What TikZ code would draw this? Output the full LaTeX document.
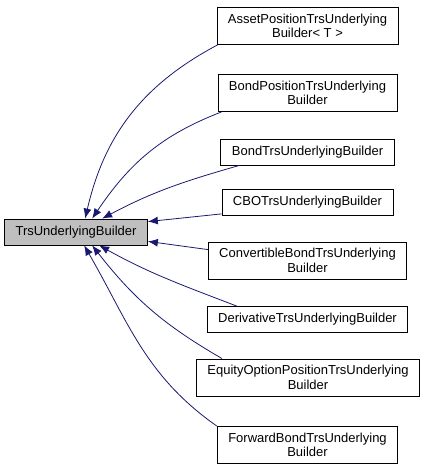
\documentclass[tikz,border=0pt]{standalone}
\usepackage{fontspec}
\setmainfont{Liberation Sans}
\usetikzlibrary{arrows.meta}
\definecolor{edgeblue}{RGB}{25,25,112}
\definecolor{basegray}{RGB}{191,191,191}
\tikzset{>={Latex[length=10pt,width=8pt]}}
\tikzset{cls/.style={rectangle,draw=black,line width=0.8pt,fill=white,align=center,inner xsep=11pt,inner ysep=6.5pt,minimum height=26pt,font=\fontsize{13}{14.5}\selectfont}}
\tikzset{inh/.style={draw=edgeblue,line width=0.8pt,->}}

\begin{document}
\begin{tikzpicture}[x=1pt,y=1pt]
\useasboundingbox (0,0) rectangle (425,471);
\node[cls,fill=basegray,minimum width=142pt] (base) at (76,239) {TrsUnderlyingBuilder};
\node[cls] (asset) at (307.5,445) {AssetPositionTrsUnderlying\\Builder< T >};
\node[cls] (bondpos) at (307.5,378) {BondPositionTrsUnderlying\\Builder};
\node[cls] (bondtrs) at (307.5,319) {BondTrsUnderlyingBuilder};
\node[cls] (cbo) at (307.5,268.5) {CBOTrsUnderlyingBuilder};
\node[cls] (conv) at (307.5,210.5) {ConvertibleBondTrsUnderlying\\Builder};
\node[cls] (deriv) at (307.5,151.5) {DerivativeTrsUnderlyingBuilder};
\node[cls] (equity) at (308,93.5) {EquityOptionPositionTrsUnderlying\\Builder};
\node[cls] (fwd) at (307.5,26) {ForwardBondTrsUnderlying\\Builder};
\path ([xshift=1pt]asset.south west) edge[inh,out=208,in=77] ([xshift=81pt]base.north west);
\path ([xshift=4pt]bondpos.south west) edge[inh,out=201,in=56] ([xshift=88pt]base.north west);
\path ([xshift=19pt]bondtrs.south west) edge[inh,out=196,in=28] ([xshift=98pt]base.north west);
\path ([yshift=2pt]cbo.south west) edge[inh] ([yshift=-3pt]base.north east);
\path ([yshift=-8pt]conv.north west) edge[inh] ([yshift=4pt]base.south east);
\path ([xshift=30pt]deriv.north west) edge[inh,out=159,in=-29] ([xshift=95pt]base.south west);
\path ([xshift=26pt]equity.north west) edge[inh,out=150,in=-52] ([xshift=88pt]base.south west);
\path (fwd.north west) edge[inh,out=145,in=-60] ([xshift=80pt]base.south west);
\end{tikzpicture}
\end{document}
